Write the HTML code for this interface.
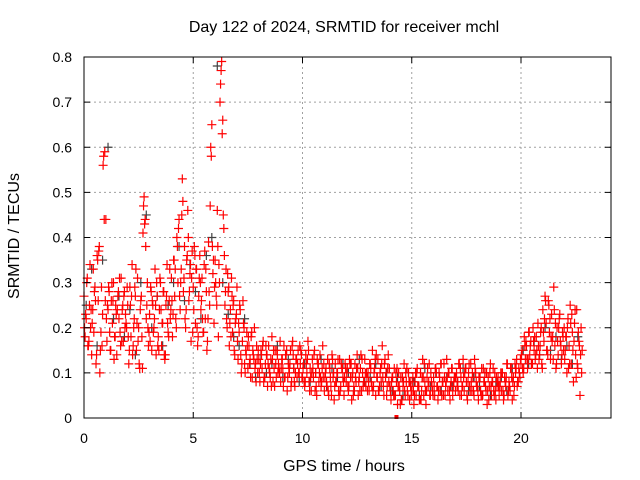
<!DOCTYPE html>
<html><head><meta charset="utf-8"><style>
html,body{margin:0;padding:0;background:#fff;}
svg{display:block;font-family:"Liberation Sans",sans-serif;}
</style></head><body>
<svg id="chart" width="640" height="480" viewBox="0 0 640 480" xmlns="http://www.w3.org/2000/svg">
<rect x="0" y="0" width="640" height="480" fill="#fff"/>
<text x="344" y="32" font-size="16" text-anchor="middle">Day 122 of 2024, SRMTID for receiver mchl</text>
<text x="344" y="471" font-size="16" text-anchor="middle">GPS time / hours</text>
<text x="0" y="0" font-size="16" text-anchor="middle" transform="translate(19,236) rotate(-90)">SRMTID / TECUs</text>
<g id="grid"></g>
<g id="gray"></g>
<g id="red"></g>
<rect x="84" y="57" width="527" height="361" fill="none" stroke="#000" stroke-width="1"/>
<g id="ticks"></g>
</svg>
<script>
const xTicks=[0,5,10,15,20];
const yTicks=[0,0.1,0.2,0.3,0.4,0.5,0.6,0.7,0.8];
const yTickLabels=["0","0.1","0.2","0.3","0.4","0.5","0.6","0.7","0.8"];
const redStep=0.05;
const redA=[27,18,22,31,16,25,20,14,24,19,29,12,36,26,38,15,29,23,58,59,
44,17,24,28,15,26,21,30,18,25,14,27,22,19,31,24,17,28,23,20,
25,12,29,18,34,16,22,27,15,31,20,11,26,18,41,49,44,22,30,16,
23,29,15,25,20,33,14,27,18,24,30,16,21,28,13,25,34,19,26,22,
31,18,35,27,22,40,30,44,24,33,53,28,38,20,35,46,26,32,17,37,
29,38,21,33,16,27,36,24,31,19,34,22,28,17,39,25,60,65,32,21,
35,27,46,18,30,74,79,66,42,25,33,20,28,16,24,31,19,26,14,22,
29,13,19,24,10,17,21,12,15,19,11,16,13,18,9,14,20,12,16,10,
13,8,15,11,17,9,12,14,7,16,10,13,18,8,11,15,9,14,12,10,
8,13,11,16,9,14,6,12,10,15,8,17,11,7,13,9,15,10,12,14,
9,12,7,14,10,17,8,11,6,13,9,15,10,5,12,8,14,7,11,9,
6,10,8,13,5,11,7,14,9,4,12,8,10,6,13,7,11,9,5,12,
8,11,6,13,9,4,10,7,12,8,14,5,9,11,6,10,8,13,7,9,
10,6,12,8,15,7,11,5,9,13,6,10,8,16,7,12,9,5,11,8,
7,4,9,6,11,5,8,3,10,6,9,4,7,12,5,8,6,10,4,7,
6,9,3,8,5,11,7,4,10,6,13,5,8,3,9,7,12,5,8,6,
9,5,11,7,4,10,6,12,8,5,9,7,13,6,10,4,8,11,7,9,
6,10,8,12,5,9,7,13,6,11,8,4,10,7,12,6,9,5,11,8,
7,4,9,6,11,5,8,10,6,3,9,7,12,5,8,6,10,4,7,9,
5,8,6,10,4,9,7,12,5,8,6,11,4,9,7,10,13,8,11,9,
12,15,10,18,13,16,11,19,14,17,12,20,15,13,18,11,16,14,19,12,
24,17,27,21,15,26,19,13,23,18,29,16,11,20,14,22,17,12,19,15,
13,18,10,22,16,25,12,19,8,21,14,24,11,17,5,20,15];
const redBStep=0.1, redBOffset=0.025;
const redB=[20,30,17,24,33,26,35,10,16,44,
22,29,15,26,18,24,31,17,27,21,
18,25,14,29,21,12,27,47,38,20,
17,26,22,30,15,24,28,14,21,33,
26,35,20,42,30,48,22,36,28,31,
24,33,18,30,22,37,15,28,58,35,
30,38,70,63,36,22,29,18,25,21,
17,25,12,20,14,18,9,15,11,13,
10,14,8,16,12,9,13,7,15,11,
11,7,14,9,12,16,8,13,10,15,
11,8,13,6,10,14,7,12,9,16,
9,7,12,5,10,8,13,6,11,9,
10,7,12,5,9,11,6,13,8,10,
8,11,6,13,9,7,12,5,10,14,
6,9,5,11,7,4,8,10,5,8,
8,5,10,7,4,9,6,11,5,7,
7,10,6,12,8,5,9,6,11,8,
9,6,11,7,10,5,12,8,6,10,
6,9,5,8,10,4,7,11,6,8,
7,10,5,9,6,11,8,12,7,10,
14,11,17,13,16,12,18,15,13,20,
19,26,14,22,17,24,12,20,16,18,
15,20,12,23,17,9,19,14];
const redCStep=0.1, redCOffset=0.075;
const redC=[23,16,34,21,28,14,37,19,56,26,
25,19,30,13,23,28,16,25,20,29,
15,27,20,33,17,24,11,43,25,19,
28,19,25,16,31,21,14,27,18,24,
23,33,38,27,45,31,24,40,34,19,
36,20,31,26,19,33,22,47,38,29,
25,34,77,45,28,32,21,27,15,23,
21,14,26,10,16,12,19,13,8,15,
12,16,9,14,11,7,15,12,10,17,
13,9,15,11,7,14,10,12,16,9,
8,12,15,9,11,6,13,10,8,12,
11,6,9,13,7,10,5,12,8,11,
7,12,9,6,11,8,14,7,10,6,
12,7,10,14,6,11,9,13,7,11,
8,5,10,7,3,9,6,11,8,5,
6,10,7,4,9,12,6,8,10,5,
11,7,9,5,12,8,10,7,5,9,
7,12,5,9,11,8,6,10,13,7,
9,5,11,7,6,10,8,5,9,7,
10,6,8,12,7,9,5,11,8,13,
11,16,13,19,12,17,14,21,16,11,
22,15,25,18,13,21,17,23,14,20,
18,11,21,15,24,12,16,10];
const grayStep=0.25, grayOffset=0.1;
const grayVals=[25,33,16,35, 60,22,27,18, 24,14,30,45, 20,27,16,25, 30,38,26,34,
28,22,36,40, 78,30,23,18, 16,22,12,9, 14,10,12,16, 9,13,11,8, 12,8,10,13,
7,11,9,12, 10,6,13,8, 9,12,7,10, 6,9,5,10, 8,5,11,7, 10,6,9,7, 8,11,6,9,
7,10,5,8, 9,6,11,8, 15,12,17,14, 20,15,18,13, 16,12,18];
const outlierT=[14.3], outlierV=[0];

const X=t=>84+t*21.85;
const Y=v=>418-v*451.25;
const NS="http://www.w3.org/2000/svg";
function mk(tag,attrs,parent){const e=document.createElementNS(NS,tag);for(const k in attrs)e.setAttribute(k,attrs[k]);parent.appendChild(e);return e;}
const grid=document.getElementById('grid'),ticks=document.getElementById('ticks');
xTicks.forEach(t=>{
  if(t>0){const g=mk('line',{x1:X(t),x2:X(t),y1:57,y2:418,stroke:'#a0a0a0','stroke-dasharray':'2,3'},grid);
  
  }
  const tk=mk('line',{x1:X(t),x2:X(t),y1:418,y2:412,stroke:'#000'},ticks);
  
  
  const tk2=mk('line',{x1:X(t),x2:X(t),y1:57,y2:63,stroke:'#000'},ticks);
  
  
  const l=mk('text',{x:X(t),y:443,'font-size':14,'text-anchor':'middle'},ticks);l.textContent=String(t);
  
  
});
yTicks.forEach((v,i)=>{
  if(i>0&&i<yTicks.length-1){const g=mk('line',{x1:84,x2:611,y1:Y(v),y2:Y(v),stroke:'#a0a0a0','stroke-dasharray':'2,3'},grid);
  
  }
  const tk=mk('line',{x1:84,x2:90,y1:Y(v),y2:Y(v),stroke:'#000'},ticks);
  
  
  const tk2=mk('line',{x1:605,x2:611,y1:Y(v),y2:Y(v),stroke:'#000'},ticks);
  
  
  const l=mk('text',{x:72,y:Y(v)+5,'font-size':14,'text-anchor':'end'},ticks);l.textContent=yTickLabels[i];
  
  
});
function plus(g,t,v,color,name){
  const x=X(t),y=Y(v);
  const p=mk('path',{d:`M${x-4.5},${y}H${x+4.5}M${x},${y-4.5}V${y+4.5}`,stroke:color,'stroke-width':1.2,fill:'none'},g);
  
  
}
const gG=document.getElementById('gray'),gR=document.getElementById('red');
grayVals.forEach((n,i)=>plus(gG,grayOffset+i*grayStep,n/100,'#404040','gray-point'));
redA.forEach((n,i)=>plus(gR,i*redStep,n/100,'#ff0000','red-point'));
redB.forEach((n,i)=>plus(gR,redBOffset+i*redBStep,n/100,'#ff0000','red-point'));
redC.forEach((n,i)=>plus(gR,redCOffset+i*redCStep,n/100,'#ff0000','red-point'));
outlierT.forEach((t,i)=>{const r=mk('rect',{x:X(t)-2,y:Y(outlierV[i])-3,width:4,height:4,fill:'#ff0000'},gR);

});
</script>
</body></html>
